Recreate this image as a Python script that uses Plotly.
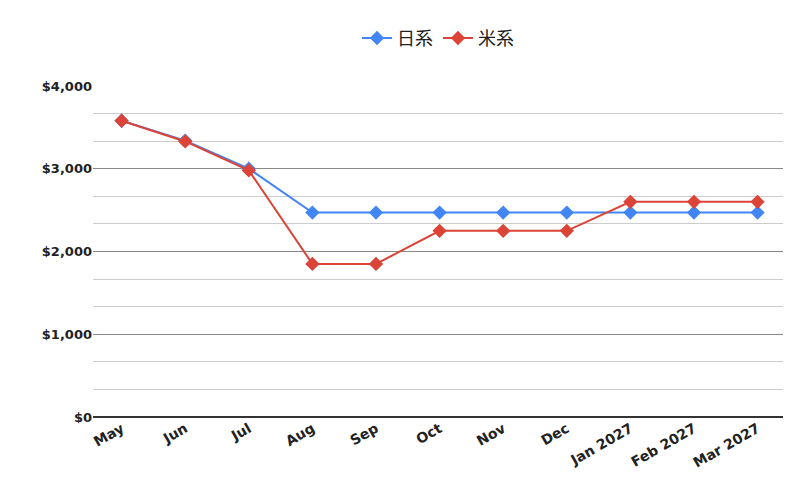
import plotly.graph_objects as go

months = ["May", "Jun", "Jul", "Aug", "Sep", "Oct", "Nov", "Dec",
          "Jan 2027", "Feb 2027", "Mar 2027"]
japan = [3580, 3340, 3000, 2470, 2470, 2470, 2470, 2470, 2470, 2470, 2470]
us = [3580, 3330, 2980, 1850, 1850, 2250, 2250, 2250, 2600, 2600, 2600]

fig = go.Figure()
fig.add_trace(go.Scatter(x=months, y=japan, name="日系", mode="lines+markers",
                         line=dict(color="#4285F4", width=2),
                         marker=dict(symbol="diamond", size=11)))
fig.add_trace(go.Scatter(x=months, y=us, name="米系", mode="lines+markers",
                         line=dict(color="#DB4437", width=2),
                         marker=dict(symbol="diamond", size=11)))

fig.update_layout(
    width=800, height=500,
    plot_bgcolor="white", paper_bgcolor="white",
    margin=dict(l=85, r=25, t=80, b=91),
    font=dict(family="Noto Sans CJK JP", size=13, color="#222"),
    legend=dict(orientation="h", x=0.5, xanchor="center", y=1.2, yanchor="top",
                font=dict(size=18), itemwidth=30),
)
fig.update_xaxes(tickangle=-30, tickfont=dict(size=14, family="DejaVu Sans", weight="bold"),
                 showgrid=False, range=[-0.45, 10.4])
fig.update_yaxes(range=[0, 4000], dtick=1000, tickprefix="$", tickformat=",",
                 tickfont=dict(size=13, family="DejaVu Sans", color="#222", weight="bold"),
                 gridcolor="#888", zeroline=True, zerolinecolor="#333",
                 minor=dict(dtick=1000/3, showgrid=True, gridcolor="#ccc"))
fig.update_layout(margin=dict(t=72))
fig.write_html("out.html")
